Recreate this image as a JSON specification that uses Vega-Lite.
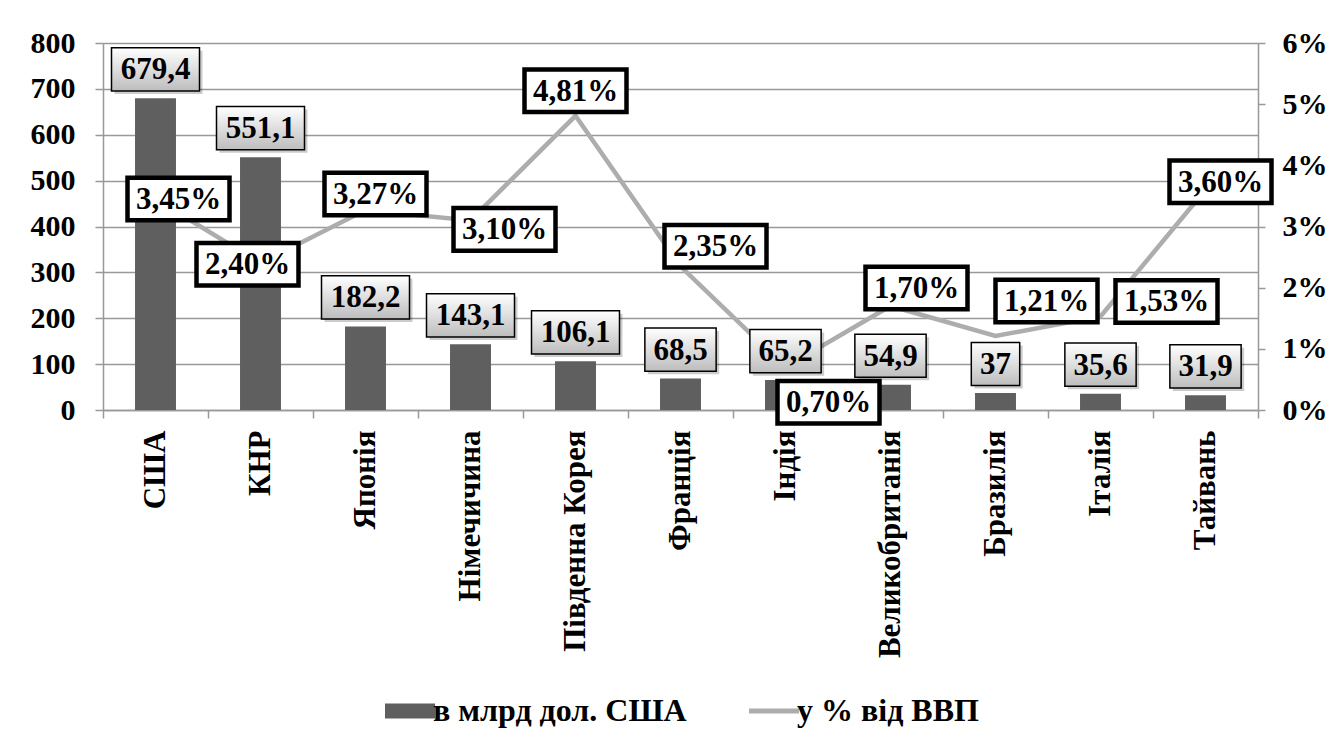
{
  "$schema": "https://vega.github.io/schema/vega-lite/v6.json",
  "width": 1155,
  "height": 367,
  "autosize": {"type": "none"},
  "padding": {"left": 103, "top": 43, "right": 83, "bottom": 334},
  "background": "white",
  "config": {
    "locale": {"number": {"decimal": ",", "thousands": " ", "grouping": [3], "currency": ["", ""]}},
    "font": "Liberation Serif, Times New Roman, DejaVu Serif, serif",
    "view": {"stroke": null},
    "axis": {
      "labelFont": "Liberation Serif, Times New Roman, DejaVu Serif, serif",
      "labelFontWeight": "bold",
      "labelFontSize": 30,
      "labelColor": "#000000",
      "labelLimit": 0,
      "domainColor": "#999999",
      "tickColor": "#999999",
      "gridColor": "#999999",
      "domainWidth": 1.5,
      "tickWidth": 1.5,
      "gridWidth": 1.5,
      "title": null
    }
  },
  "data": {
    "values": [
      {"country": "США", "value": 679.4, "pct": 0.0345},
      {"country": "КНР", "value": 551.1, "pct": 0.024},
      {"country": "Японія", "value": 182.2, "pct": 0.0327},
      {"country": "Німечичина", "value": 143.1, "pct": 0.031},
      {"country": "Південна Корея", "value": 106.1, "pct": 0.0481},
      {"country": "Франція", "value": 68.5, "pct": 0.0235},
      {"country": "Індія", "value": 65.2, "pct": 0.007},
      {"country": "Великобританія", "value": 54.9, "pct": 0.017},
      {"country": "Бразилія", "value": 37, "pct": 0.0121},
      {"country": "Італія", "value": 35.6, "pct": 0.0153},
      {"country": "Тайвань", "value": 31.9, "pct": 0.036}
    ]
  },
  "encoding": {
    "x": {
      "field": "country",
      "type": "nominal",
      "sort": null,
      "scale": {"paddingInner": 0, "paddingOuter": 0},
      "axis": {
        "orient": "bottom",
        "labelAngle": 270,
        "tickBand": "extent",
        "tickSize": 8,
        "labelPadding": 12,
        "labelFontSize": 31,
        "grid": false
      }
    }
  },
  "layer": [
    {
      "mark": {"type": "bar", "width": {"band": 0.39}},
      "encoding": {
        "y": {
          "field": "value",
          "type": "quantitative",
          "scale": {"domain": [0, 800], "nice": false},
          "axis": {
            "orient": "left",
            "values": [0, 100, 200, 300, 400, 500, 600, 700, 800],
            "tickSize": 8,
            "labelPadding": 20,
            "grid": true
          }
        },
        "color": {
          "datum": "в млрд дол. США",
          "type": "nominal",
          "scale": {"domain": ["в млрд дол. США", "у % від ВВП"], "range": ["#5F5F5F", "#ADADAD"]},
          "legend": {
            "orient": "none",
            "legendX": 291,
            "legendY": 652,
            "direction": "horizontal",
            "title": null,
            "padding": 0,
            "labelFont": "Liberation Serif, Times New Roman, DejaVu Serif, serif",
            "labelFontSize": 32,
            "labelFontWeight": "bold",
            "labelColor": "#000000",
            "labelLimit": 0,
            "symbolSize": 2500,
            "columnPadding": 52,
            "labelOffset": 7,
            "encode": {
              "symbols": {
                "update": {
                  "shape": {"signal": "datum.value === 'у % від ВВП' ? 'stroke' : 'M-1,-0.3H1V0.3H-1Z'"},
                  "strokeWidth": {"signal": "datum.value === 'у % від ВВП' ? 5 : 0"},
                  "fill": {"signal": "datum.value === 'у % від ВВП' ? 'transparent' : '#5F5F5F'"},
                  "stroke": {"signal": "datum.value === 'у % від ВВП' ? '#ADADAD' : '#5F5F5F'"},
                  "opacity": {"value": 1}
                }
              }
            }
          }
        }
      }
    },
    {
      "mark": {"type": "line", "strokeWidth": 4.5},
      "encoding": {
        "y": {
          "field": "pct",
          "type": "quantitative",
          "scale": {"domain": [0, 0.06], "nice": false},
          "axis": {
            "orient": "right",
            "values": [0, 0.01, 0.02, 0.03, 0.04, 0.05, 0.06],
            "format": ".0%",
            "tickSize": 7,
            "labelPadding": 17,
            "grid": false
          }
        },
        "color": {"datum": "у % від ВВП", "type": "nominal"}
      }
    },
    {
      "mark": {
        "type": "point",
        "shape": {"expr": "datum.value >= 100 ? 'M-1,-0.49H1V0.49H-1Z' : (datum.value % 1 === 0 ? 'M-0.55,-0.49H0.55V0.49H-0.55Z' : 'M-0.81,-0.49H0.81V0.49H-0.81Z')"},
        "size": 7744,
        "filled": true,
        "fill": "#000000",
        "fillOpacity": 0.2,
        "strokeWidth": 0,
        "opacity": 1,
        "xOffset": 3,
        "yOffset": -26
      },
      "encoding": {
        "y": {"field": "value", "type": "quantitative", "scale": {"domain": [0, 800], "nice": false}, "axis": null}
      }
    },
    {
      "mark": {
        "type": "point",
        "shape": {"expr": "datum.value >= 100 ? 'M-1,-0.49H1V0.49H-1Z' : (datum.value % 1 === 0 ? 'M-0.55,-0.49H0.55V0.49H-0.55Z' : 'M-0.81,-0.49H0.81V0.49H-0.81Z')"},
        "size": 7744,
        "filled": true,
        "fill": {"gradient": "linear", "x1": 0, "y1": 0, "x2": 0, "y2": 1, "stops": [{"offset": 0, "color": "#FFFFFF"}, {"offset": 1, "color": "#BDBDBD"}]},
        "stroke": "#000000",
        "strokeWidth": 1.5,
        "opacity": 1,
        "yOffset": -29
      },
      "encoding": {
        "y": {"field": "value", "type": "quantitative", "scale": {"domain": [0, 800], "nice": false}, "axis": null}
      }
    },
    {
      "mark": {
        "type": "text",
        "font": "Liberation Serif, Times New Roman, DejaVu Serif, serif",
        "fontWeight": "bold",
        "fontSize": 31,
        "baseline": "middle",
        "color": "#000000",
        "yOffset": -28
      },
      "encoding": {
        "y": {"field": "value", "type": "quantitative", "scale": {"domain": [0, 800], "nice": false}, "axis": null},
        "text": {"field": "value", "type": "quantitative", "format": ".1~f"}
      }
    },
    {
      "mark": {
        "type": "point",
        "shape": "M-1,-0.417H1V0.417H-1Z",
        "size": 10404,
        "filled": true,
        "fill": "#FFFFFF",
        "stroke": "#000000",
        "strokeWidth": 4.5,
        "opacity": 1,
        "xOffset": {"expr": "({'США':23,'КНР':-13,'Японія':10,'Німечичина':34,'Південна Корея':0,'Франція':35,'Індія':43,'Великобританія':26,'Бразилія':51,'Італія':66,'Тайвань':15})[datum.country]"},
        "yOffset": {"expr": "({'США':0,'КНР':1,'Японія':-16,'Німечичина':9,'Південна Корея':-25,'Франція':-20,'Індія':35,'Великобританія':-18,'Бразилія':-35,'Італія':-15,'Тайвань':-8})[datum.country]"}
      },
      "encoding": {
        "y": {"field": "pct", "type": "quantitative", "scale": {"domain": [0, 0.06], "nice": false}, "axis": null}
      }
    },
    {
      "mark": {
        "type": "text",
        "font": "Liberation Serif, Times New Roman, DejaVu Serif, serif",
        "fontWeight": "bold",
        "fontSize": 31,
        "baseline": "middle",
        "color": "#000000",
        "xOffset": {"expr": "({'США':23,'КНР':-13,'Японія':10,'Німечичина':34,'Південна Корея':0,'Франція':35,'Індія':43,'Великобританія':26,'Бразилія':51,'Італія':66,'Тайвань':15})[datum.country]"},
        "yOffset": {"expr": "({'США':1,'КНР':2,'Японія':-15,'Німечичина':10,'Південна Корея':-24,'Франція':-19,'Індія':36,'Великобританія':-17,'Бразилія':-34,'Італія':-14,'Тайвань':-7})[datum.country]"}
      },
      "encoding": {
        "y": {"field": "pct", "type": "quantitative", "scale": {"domain": [0, 0.06], "nice": false}, "axis": null},
        "text": {"field": "pct", "type": "quantitative", "format": ".2%"}
      }
    }
  ],
  "resolve": {"scale": {"y": "independent"}}
}
